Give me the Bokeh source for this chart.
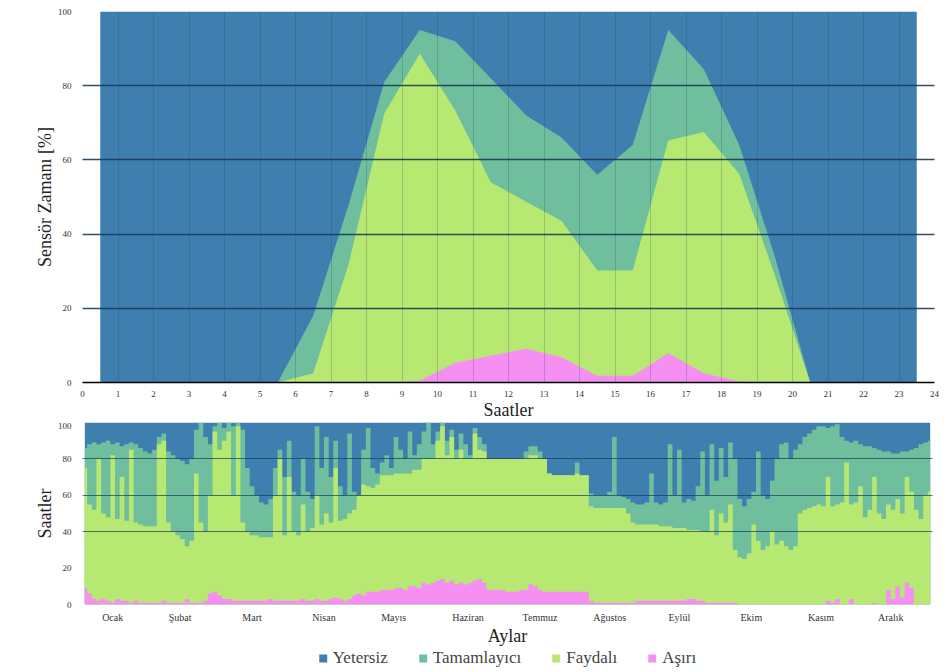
from bokeh.plotting import figure
from bokeh.models import Range1d, FixedTicker, Legend, LegendItem, ColumnDataSource
from bokeh.layouts import column
from bokeh.embed import file_html
from bokeh.resources import INLINE

FONT = "Liberation Serif"
C_YET = "#3f7fb0"
C_TAM = "#6fbf9f"
C_FAY = "#b6e872"
C_ASI = "#f590f2"
GRID = "#1b3a57"

# ---------------- top chart: hourly share (%) ----------------
saat = [0.5, 1.5, 2.5, 3.5, 4.5, 5.5, 6.5, 7.5, 8.5, 9.5, 10.5, 11.5,
        12.5, 13.5, 14.5, 15.5, 16.5, 17.5, 18.5, 19.5, 20.5, 21.5, 22.5, 23.5]
asiri_saat = [0, 0, 0, 0, 0, 0, 0, 0, 0, 0.5, 5.3, 7.2,
              9.1, 6.8, 1.8, 1.8, 7.9, 2.5, 0.3, 0, 0, 0, 0, 0]
faydali_saat = [0, 0, 0, 0, 0, 0, 2.5, 32, 72.5, 88.1, 68, 46.8,
                39.6, 36.7, 28.4, 28.4, 57.3, 65, 55.9, 29, 0, 0, 0, 0]
tamam_saat = [0, 0, 0, 0, 0, 0, 15.5, 16, 8.5, 6.4, 18.7, 28,
              23.3, 22.5, 25.8, 33.8, 29.8, 17, 7.8, 5, 0, 0, 0, 0]
yetersiz_saat = [100, 100, 100, 100, 100, 100, 82, 52, 19, 5, 8, 18,
                 28, 34, 44, 36, 5, 15.5, 36, 66, 100, 100, 100, 100]
saat_ticks = list(range(0, 25))
yuzde_ticks = [0, 20, 40, 60, 80, 100]

# ---------------- bottom chart: daily levels (cumulative tops) ----------------
gun = list(range(1, 366, 2))
asiri_ust = [
    9, 6, 3, 2, 3, 2, 1, 3, 2, 2, 1, 2, 1, 1, 1,
    1, 1, 2, 1, 1, 1, 1, 3, 1, 1, 1, 2, 6, 7, 5,
    3, 3, 2, 2, 2, 2, 2, 2, 2, 2, 3, 2, 2, 2, 2,
    2, 2, 3, 2, 2, 3, 2, 2, 3, 4, 3, 2, 3, 5, 6,
    5, 7, 7, 7, 8, 8, 8, 9, 9, 8, 10, 10, 9, 12, 11,
    12, 13, 14, 12, 13, 11, 12, 11, 12, 13, 14, 12, 8, 8, 8,
    8, 7, 7, 7, 8, 8, 11, 10, 8, 7, 7, 7, 7, 7, 7, 7,
    7, 7, 7, 2, 1, 1, 1, 1, 1, 1, 1, 1, 1, 2, 2, 2,
    2, 2, 2, 2, 2, 2, 2, 2, 3, 3, 2, 2, 1, 1, 1,
    1, 1, 1, 1, 0, 0, 0, 0, 0, 0, 0, 0, 0, 0, 0,
    0, 0, 0, 0, 0, 0, 0, 0, 2, 1, 3, 0, 0, 3, 0,
    0, 0, 0, 1, 0, 0, 8, 3, 10, 4, 12, 9, 0, 0, 0, 0]
faydali_ust = [
    75, 55, 52, 80, 50, 48, 82, 47, 70, 46, 85, 45, 44, 43, 43,
    43, 88, 90, 45, 40, 38, 36, 32, 35, 72, 45, 40, 60, 95, 85,
    90, 95, 60, 98, 45, 40, 38, 38, 37, 37, 37, 60, 80, 38, 70,
    40, 38, 55, 40, 42, 60, 44, 50, 45, 75, 46, 47, 50, 52, 60,
    66, 65, 64, 66, 71, 71, 71, 72, 72, 72, 72, 74, 74, 80, 80,
    80, 90, 98, 82, 92, 80, 85, 80, 80, 94, 85, 84, 80, 80, 80,
    80, 80, 80, 80, 80, 80, 82, 82, 80, 80, 72, 71, 71, 71, 71, 71,
    72, 71, 71, 54, 53, 53, 53, 53, 53, 53, 53, 50, 45, 44, 44, 44,
    44, 44, 43, 43, 43, 42, 42, 42, 41, 41, 41, 40, 40, 52, 38,
    50, 45, 55, 30, 26, 25, 28, 44, 35, 30, 32, 40, 33, 35, 32,
    30, 32, 50, 52, 53, 54, 55, 54, 70, 54, 55, 56, 78, 55, 56,
    65, 48, 52, 70, 50, 47, 55, 52, 58, 50, 70, 62, 52, 47, 60, 62]
tamam_ust = [
    86, 88, 89, 88, 89, 90, 88, 89, 87, 88, 89, 88, 86, 84, 83,
    85, 92, 94, 84, 82, 80, 79, 77, 80, 96, 100, 92, 88, 98, 100,
    97, 100, 98, 100, 96, 75, 65, 60, 56, 55, 58, 75, 85, 70, 90,
    62, 60, 80, 62, 58, 98, 75, 92, 70, 90, 65, 60, 94, 62, 58,
    85, 97, 75, 72, 78, 82, 75, 92, 85, 80, 95, 82, 88, 95, 100,
    88, 95, 100, 90, 96, 85, 94, 88, 82, 97, 92, 88, 80, 80, 80,
    80, 80, 80, 80, 80, 84, 87, 87, 84, 80, 72, 71, 71, 71, 71, 71,
    78, 71, 71, 61, 60, 60, 60, 62, 92, 60, 59, 58, 56, 55, 55, 56,
    72, 56, 55, 56, 88, 60, 85, 56, 58, 57, 65, 84, 60, 88, 68,
    86, 70, 89, 80, 58, 54, 58, 62, 84, 60, 58, 68, 80, 88, 89,
    80, 85, 88, 92, 94, 96, 98, 98, 97, 98, 99, 92, 90, 89, 90,
    88, 87, 87, 86, 85, 84, 84, 83, 83, 84, 84, 85, 86, 88, 89, 90]
yetersiz_ust = [100] * len(gun)
ay_pos = [13, 42, 73, 104, 134, 166, 197, 227, 257, 288, 318, 348]
ay_adlari = ["Ocak", "Şubat", "Mart", "Nisan", "Mayıs", "Haziran",
             "Temmuz", "Ağustos", "Eylül", "Ekim", "Kasım", "Aralık"]
saat_yuzde_ticks = [0, 20, 40, 60, 80, 100]
seri_adlari = ["Yetersiz", "Tamamlayıcı", "Faydalı", "Aşırı"]


def style_axes(p):
    p.outline_line_color = None
    for ax in (p.xaxis[0], p.yaxis[0]):
        ax.major_tick_line_color = None
        ax.minor_tick_line_color = None
        ax.major_label_text_font = FONT
        ax.major_label_text_font_size = "9px"
        ax.major_label_text_color = "#333333"
        ax.axis_label_text_font = FONT
        ax.axis_label_text_font_size = "18px"
        ax.axis_label_text_font_style = "normal"
        ax.axis_label_text_color = "#222222"
    p.yaxis[0].axis_line_color = None


# ---- top figure ----
top = figure(frame_width=852, frame_height=371, x_range=Range1d(0, 24),
             y_range=Range1d(0, 100), output_backend="svg",
             toolbar_location=None, min_border_left=82, min_border_right=8,
             min_border_top=11, min_border_bottom=30)
c1 = asiri_saat
c2 = [a + b for a, b in zip(c1, faydali_saat)]
c3 = [a + b for a, b in zip(c2, tamam_saat)]
c4 = [a + b for a, b in zip(c3, yetersiz_saat)]
src_top = ColumnDataSource(dict(saat=saat, c1=c1, c2=c2, c3=c3, c4=c4))
for col, color in (("c4", C_YET), ("c3", C_TAM), ("c2", C_FAY), ("c1", C_ASI)):
    top.varea(x="saat", y1=0, y2=col, fill_color=color, source=src_top)

style_axes(top)
top.xaxis.ticker = FixedTicker(ticks=saat_ticks)
top.yaxis.ticker = FixedTicker(ticks=yuzde_ticks)
top.xaxis.axis_line_color = "black"
top.xaxis.axis_line_width = 1.5
top.xaxis.axis_label = "Saatler"
top.xaxis.major_label_standoff = 2
top.xaxis.axis_label_standoff = 0
top.yaxis.axis_label = "Sensör Zamanı [%]"
top.yaxis.major_label_standoff = 5
top.yaxis.axis_label_standoff = 0
top.xgrid.ticker = FixedTicker(ticks=saat_ticks)
top.xgrid.grid_line_color = GRID
top.xgrid.grid_line_alpha = 0.22
top.xgrid.level = "overlay"
top.ygrid.ticker = FixedTicker(ticks=[20, 40, 60, 80, 100])
top.ygrid.grid_line_color = GRID
top.ygrid.grid_line_alpha = 0.9
top.ygrid.grid_line_width = 1.5
top.ygrid.level = "overlay"

# ---- bottom figure ----
bot = figure(frame_width=850, frame_height=182, x_range=Range1d(0, 366),
             y_range=Range1d(0, 100), output_backend="svg",
             toolbar_location=None, min_border_left=82, min_border_right=10,
             min_border_top=0, min_border_bottom=4)
src_bot = ColumnDataSource(dict(gun=gun, p=asiri_ust, g=faydali_ust,
                                t=tamam_ust, y=yetersiz_ust))
for col, color in (("y", C_YET), ("t", C_TAM), ("g", C_FAY), ("p", C_ASI)):
    bot.varea_step(x="gun", y1=0, y2=col, step_mode="center",
                   fill_color=color, source=src_bot)

style_axes(bot)
bot.xaxis.axis_line_color = None
bot.xaxis.ticker = FixedTicker(ticks=ay_pos)
bot.xaxis.major_label_overrides = {k: v for k, v in zip(ay_pos, ay_adlari)}
bot.xaxis.major_label_text_font_size = "10px"
bot.xaxis.major_label_standoff = 1
bot.xaxis.axis_label = "Aylar"
bot.xaxis.axis_label_standoff = 0
bot.yaxis.ticker = FixedTicker(ticks=saat_yuzde_ticks)
bot.yaxis.axis_label = "Saatler"
bot.yaxis.major_label_standoff = 5
bot.yaxis.axis_label_standoff = 0
bot.xgrid.visible = False
bot.ygrid.ticker = FixedTicker(ticks=[40, 60, 80, 100])
bot.ygrid.grid_line_color = GRID
bot.ygrid.grid_line_alpha = 0.7
bot.ygrid.grid_line_width = 1.2
bot.ygrid.level = "overlay"

# ---- legend strip (swatches are off-range quads; only the legend shows) ----
leg = figure(frame_width=850, frame_height=20, x_range=Range1d(0, 1),
             y_range=Range1d(0, 1), output_backend="svg",
             toolbar_location=None, x_axis_location=None,
             y_axis_location=None, min_border_left=82, min_border_right=10,
             min_border_top=0, min_border_bottom=0)
leg.grid.visible = False
leg.outline_line_color = None
items = []
for name, color in zip(seri_adlari, (C_YET, C_TAM, C_FAY, C_ASI)):
    r = leg.quad(left=[5], right=[6], bottom=[5], top=[6],
                 fill_color=color, line_color=None)
    items.append(LegendItem(label=name, renderers=[r]))
legend = Legend(items=items, orientation="horizontal", location="center",
                glyph_width=10, glyph_height=10, label_text_font=FONT,
                label_text_font_size="17px", label_standoff=5, spacing=30,
                padding=0, margin=0, border_line_alpha=0,
                background_fill_alpha=0, label_height=14)
leg.add_layout(legend)

layout = column(top, bot, leg, spacing=0)
open("out.html", "w").write(file_html(layout, INLINE))
